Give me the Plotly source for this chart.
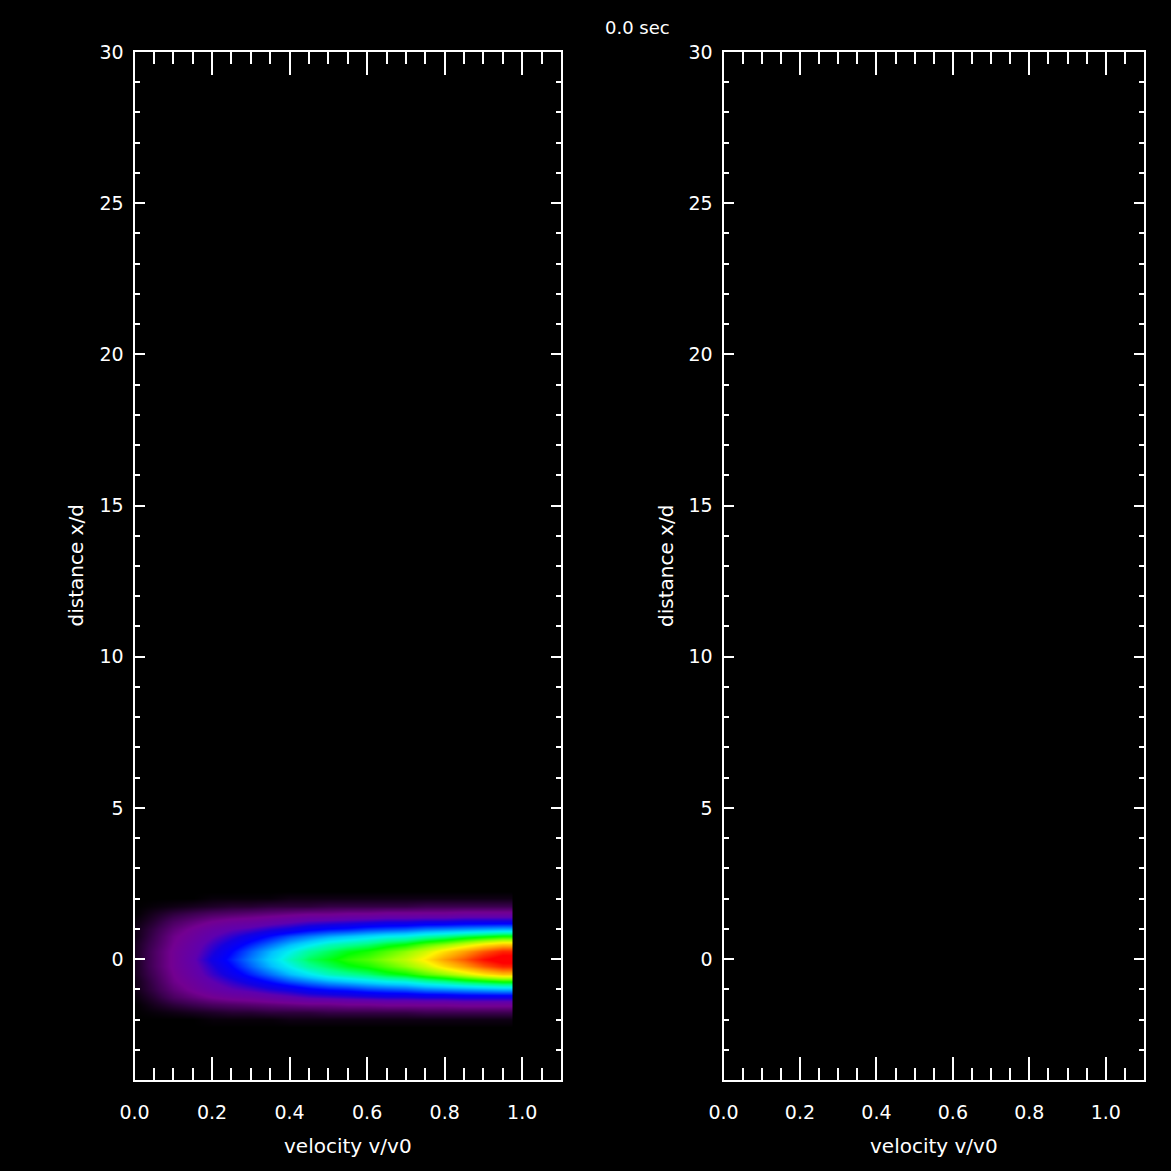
import plotly.graph_objects as go

# Velocity columns (v/v0) of the phase-space grid
velocity = [0.00, 0.05, 0.10, 0.15, 0.20, 0.25, 0.30, 0.35, 0.40, 0.45,
            0.50, 0.55, 0.60, 0.65, 0.70, 0.75, 0.80, 0.85, 0.90, 0.95]

# Distance rows (x/d) from the axis outward; the field is symmetric about x/d = 0
distance_half = [0.00, 0.25, 0.50, 0.75, 1.00, 1.25, 1.50, 1.75, 2.00, 2.25]

# Normalised intensity for each distance row (one value per velocity column)
level_rows = [
    [0.03, 0.10, 0.17, 0.23, 0.31, 0.37, 0.43, 0.49, 0.55, 0.60, 0.63, 0.66, 0.68, 0.71, 0.74, 0.79, 0.85, 0.90, 0.96, 1.00],
    [0.03, 0.10, 0.17, 0.22, 0.29, 0.35, 0.41, 0.47, 0.52, 0.57, 0.60, 0.63, 0.65, 0.68, 0.71, 0.75, 0.80, 0.85, 0.90, 0.94],
    [0.03, 0.09, 0.16, 0.21, 0.27, 0.32, 0.37, 0.42, 0.47, 0.51, 0.55, 0.57, 0.59, 0.62, 0.64, 0.68, 0.71, 0.75, 0.79, 0.82],
    [0.02, 0.08, 0.15, 0.19, 0.24, 0.28, 0.32, 0.36, 0.40, 0.43, 0.46, 0.48, 0.50, 0.52, 0.53, 0.56, 0.58, 0.61, 0.63, 0.65],
    [0.02, 0.07, 0.13, 0.17, 0.21, 0.24, 0.26, 0.29, 0.31, 0.34, 0.36, 0.37, 0.39, 0.40, 0.41, 0.43, 0.44, 0.45, 0.46, 0.47],
    [0.01, 0.05, 0.10, 0.13, 0.16, 0.18, 0.19, 0.21, 0.23, 0.25, 0.26, 0.27, 0.28, 0.29, 0.29, 0.30, 0.30, 0.31, 0.31, 0.31],
    [0.00, 0.03, 0.06, 0.08, 0.10, 0.11, 0.12, 0.13, 0.14, 0.15, 0.15, 0.16, 0.16, 0.17, 0.17, 0.17, 0.17, 0.18, 0.18, 0.18],
    [0.00, 0.01, 0.02, 0.03, 0.04, 0.05, 0.05, 0.06, 0.06, 0.06, 0.07, 0.07, 0.07, 0.07, 0.07, 0.08, 0.08, 0.08, 0.08, 0.08],
    [0.00, 0.00, 0.00, 0.00, 0.01, 0.01, 0.01, 0.01, 0.02, 0.02, 0.02, 0.02, 0.02, 0.02, 0.02, 0.02, 0.02, 0.02, 0.02, 0.02],
    [0.00, 0.00, 0.00, 0.00, 0.00, 0.00, 0.00, 0.00, 0.00, 0.00, 0.00, 0.00, 0.00, 0.00, 0.00, 0.00, 0.00, 0.00, 0.00, 0.00],
]

x_ticks = [0.0, 0.2, 0.4, 0.6, 0.8, 1.0]
y_ticks = [0, 5, 10, 15, 20, 25, 30]
time_label = "0.0 sec"

# Full grid, mirrored about x/d = 0
distance = [-d for d in distance_half[:0:-1]] + distance_half
z = level_rows[:0:-1] + level_rows

rainbow = [
    [0.00, "rgb(0,0,0)"],
    [0.08, "rgb(60,0,80)"],
    [0.16, "rgb(115,0,145)"],
    [0.24, "rgb(95,0,175)"],
    [0.30, "rgb(20,0,225)"],
    [0.35, "rgb(0,0,255)"],
    [0.42, "rgb(0,110,255)"],
    [0.48, "rgb(0,200,255)"],
    [0.52, "rgb(0,240,240)"],
    [0.58, "rgb(0,255,140)"],
    [0.64, "rgb(0,255,0)"],
    [0.72, "rgb(160,255,0)"],
    [0.78, "rgb(255,245,0)"],
    [0.85, "rgb(255,160,0)"],
    [0.92, "rgb(255,60,0)"],
    [0.97, "rgb(255,0,0)"],
    [1.00, "rgb(255,0,0)"],
]

FONT = "DejaVu Sans"
W = H = 1171

fig = go.Figure()
fig.add_trace(go.Heatmap(
    x=velocity, y=distance, z=z, zmin=0, zmax=1, zsmooth="best",
    colorscale=rainbow, showscale=False, hoverinfo="skip",
    xaxis="x", yaxis="y",
))
fig.add_trace(go.Scatter(x=[], y=[], xaxis="x2", yaxis="y2", showlegend=False))


def x_axis(domain, anchor):
    return dict(
        domain=domain, anchor=anchor, range=[0, 1.1], automargin=False,
        showline=True, linecolor="white", linewidth=2, mirror="allticks",
        ticks="inside", ticklen=23, tickwidth=2, tickcolor="white",
        tickvals=x_ticks, ticktext=[f"{v:.1f}" for v in x_ticks],
        minor=dict(ticks="inside", dtick=0.05, tick0=0, ticklen=12,
                   tickwidth=2, tickcolor="white"),
        showgrid=False, zeroline=False, ticklabelstandoff=14,
        tickfont=dict(family=FONT, size=19, color="white"),
    )


def y_axis(domain, anchor):
    return dict(
        domain=domain, anchor=anchor, range=[-4, 30], automargin=False,
        showline=True, linecolor="white", linewidth=2, mirror="allticks",
        ticks="inside", ticklen=10, tickwidth=2, tickcolor="white",
        tickvals=y_ticks, ticktext=[str(v) for v in y_ticks],
        minor=dict(ticks="inside", dtick=1, tick0=0, ticklen=5,
                   tickwidth=2, tickcolor="white"),
        showgrid=False, zeroline=False, ticklabelstandoff=5,
        tickfont=dict(family=FONT, size=19, color="white"),
    )


y_dom = [(H - 1080) / H, (H - 52) / H]
left_dom = [134.5 / W, 561 / W]
right_dom = [723.5 / W, 1144 / W]

annotations = [
    dict(text=time_label, x=637 / W, y=1 - 27 / H, xref="paper", yref="paper",
         xanchor="center", yanchor="middle", showarrow=False,
         font=dict(family=FONT, size=18, color="white")),
]
for dom, ytitle_x in ((left_dom, 75.5), (right_dom, 666)):
    annotations.append(dict(
        text="velocity v/v0", x=(dom[0] + dom[1]) / 2, y=1 - 1146 / H,
        xref="paper", yref="paper", xanchor="center", yanchor="middle",
        showarrow=False, font=dict(family=FONT, size=20, color="white")))
    annotations.append(dict(
        text="distance x/d", x=ytitle_x / W, y=1 - 566 / H, textangle=-90,
        xref="paper", yref="paper", xanchor="center", yanchor="middle",
        showarrow=False, font=dict(family=FONT, size=20, color="white")))

fig.update_layout(
    width=W, height=H,
    margin=dict(l=0, r=0, t=0, b=0, autoexpand=False),
    paper_bgcolor="black", plot_bgcolor="black",
    showlegend=False,
    xaxis=x_axis(left_dom, "y"),
    yaxis=y_axis(y_dom, "x"),
    xaxis2=x_axis(right_dom, "y2"),
    yaxis2=y_axis(y_dom, "x2"),
    annotations=annotations,
)

fig.write_html("out.html")
